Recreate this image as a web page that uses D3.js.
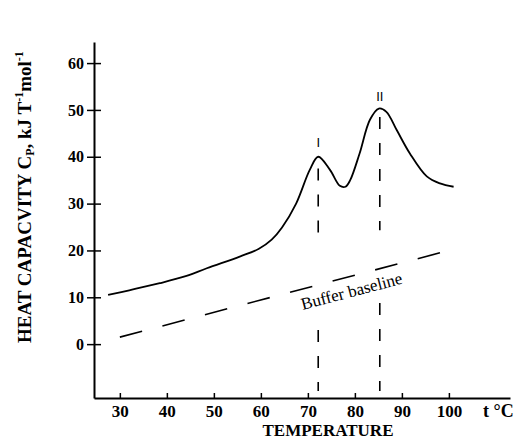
<!DOCTYPE html>
<html>
<script src="https://d3js.org/d3.v7.min.js"></script>
<body style="margin:0;background:#fff">
<svg id="myPlot" style="width:518px;height:441px;display:block"></svg>

<script>
// Data
const temps = [27.5, 32, 38.5, 44, 48.5, 55.5, 59.5, 62.3, 64.5, 67.5, 70.4, 72.2, 74.7, 76.8, 78, 79, 81, 83.2, 85.1, 86.7, 88.9, 91.7, 95.3, 98.1, 101];
const cp    = [10.5, 11.5, 13.0, 14.5, 16.2, 18.7, 20.3, 22.3, 24.9, 30, 37.2, 40, 37.2, 33.8, 33.6, 35, 40.7, 47.9, 50.3, 49.6, 45.7, 40.7, 35.8, 34.3, 33.6];

const baseTemps = [30, 100];
const baseCp = [1.5, 20];

const peakTemps = [72.2, 85.3];
const peakNames = ["I", "II"];
const peakLabelCp = [42, 51.8];
// visible pieces of the vertical dashed lines [from, to] in Cp units
const peakPieces = [
  [[37.5, 21.7], [3, -10]],
  [[48.5, 24.3], [8.8, -10]]
];

const xTicks = [30, 40, 50, 60, 70, 80, 90, 100];
const yTicks = [0, 10, 20, 30, 40, 50, 60];

const svg = d3.select("#myPlot");
const serif = "'Liberation Serif', 'Times New Roman', Times, serif";

const xScale = d3.scaleLinear().domain([24.5, 113]).range([94, 510]);
const yScale = d3.scaleLinear().domain([-11.5, 64.5]).range([398, 42]);

// X axis
const gx = svg.append("g")
  .attr("transform", "translate(0," + yScale(-11.5) + ")")
  .call(d3.axisBottom(xScale).tickValues(xTicks).tickSizeInner(-5).tickSizeOuter(0).tickPadding(7));
gx.select(".domain").attr("stroke-width", 2);
gx.selectAll(".tick line").attr("stroke-width", 1.5);
gx.selectAll("text").attr("font-family", serif).attr("font-weight", "bold").attr("font-size", "17px").attr("fill", "#000");

// Y axis
const gy = svg.append("g")
  .attr("transform", "translate(" + xScale(24.5) + ",0)")
  .call(d3.axisLeft(yScale).tickValues(yTicks).tickSizeInner(7).tickSizeOuter(0).tickPadding(3));
gy.select(".domain").attr("stroke-width", 2);
gy.selectAll(".tick line").attr("x2", -7).attr("x1", 7).attr("stroke-width", 1.5);
gy.selectAll("text").attr("font-family", serif).attr("font-weight", "bold").attr("font-size", "16px").attr("fill", "#000");

// Axis titles
svg.append("text")
  .attr("x", 483).attr("y", 417)
  .attr("font-family", serif).attr("font-weight", "bold").attr("font-size", "18px")
  .text("t \u00B0C");

svg.append("text")
  .attr("x", 328).attr("y", 436)
  .attr("text-anchor", "middle")
  .attr("font-family", serif).attr("font-weight", "bold").attr("font-size", "17px")
  .text("TEMPERATURE");

const ylab = svg.append("text")
  .attr("transform", "translate(31,343) rotate(-90)")
  .attr("font-family", serif).attr("font-weight", "bold").attr("font-size", "19px");
ylab.append("tspan").text("HEAT CAPACVITY C");
ylab.append("tspan").attr("font-size", "12px").attr("dy", 3).text("P");
ylab.append("tspan").attr("dy", -3).text(", kJ T");
ylab.append("tspan").attr("font-size", "12px").attr("dy", -8).text("-1");
ylab.append("tspan").attr("dy", 8).text("mol");
ylab.append("tspan").attr("font-size", "12px").attr("dy", -8).text("-1");

// Buffer baseline
const baseData = baseTemps.map((t, i) => [t, baseCp[i]]);
svg.append("path")
  .datum(baseData)
  .attr("d", d3.line().x(d => xScale(d[0])).y(d => yScale(d[1])))
  .attr("stroke", "#000").attr("stroke-width", 1.6)
  .attr("stroke-dasharray", "23,21")
  .attr("fill", "none");

const angle = Math.atan2(yScale(baseCp[1]) - yScale(baseCp[0]), xScale(baseTemps[1]) - xScale(baseTemps[0])) * 180 / Math.PI;
svg.append("text")
  .attr("transform", "translate(" + xScale(68.9) + "," + yScale(7.3) + ") rotate(" + angle + ")")
  .attr("font-family", serif).attr("font-size", "17px").attr("fill", "#000")
  .text("Buffer baseline");

// Vertical dashed lines at the peaks
peakTemps.forEach((t, i) => {
  peakPieces[i].forEach(p => {
    svg.append("line")
      .attr("x1", xScale(t)).attr("x2", xScale(t))
      .attr("y1", yScale(p[0])).attr("y2", yScale(p[1]))
      .attr("stroke", "#000").attr("stroke-width", 1.6)
      .attr("stroke-dasharray", "12,14");
  });
});

// Peak labels
svg.selectAll(".peak")
  .data(peakTemps).enter()
  .append("text")
  .attr("x", d => xScale(d))
  .attr("y", (d, i) => yScale(peakLabelCp[i]))
  .attr("text-anchor", "middle")
  .attr("font-family", "'Liberation Sans', Arial, sans-serif")
  .attr("font-size", "13px")
  .attr("fill", "#000")
  .text((d, i) => peakNames[i]);

// Heat capacity curve
const curveData = temps.map((t, i) => [t, cp[i]]);
svg.append("path")
  .datum(curveData)
  .attr("d", d3.line().curve(d3.curveCatmullRom).x(d => xScale(d[0])).y(d => yScale(d[1])))
  .attr("stroke", "#000").attr("stroke-width", 1.8)
  .attr("fill", "none");
</script>
</body>
</html>
